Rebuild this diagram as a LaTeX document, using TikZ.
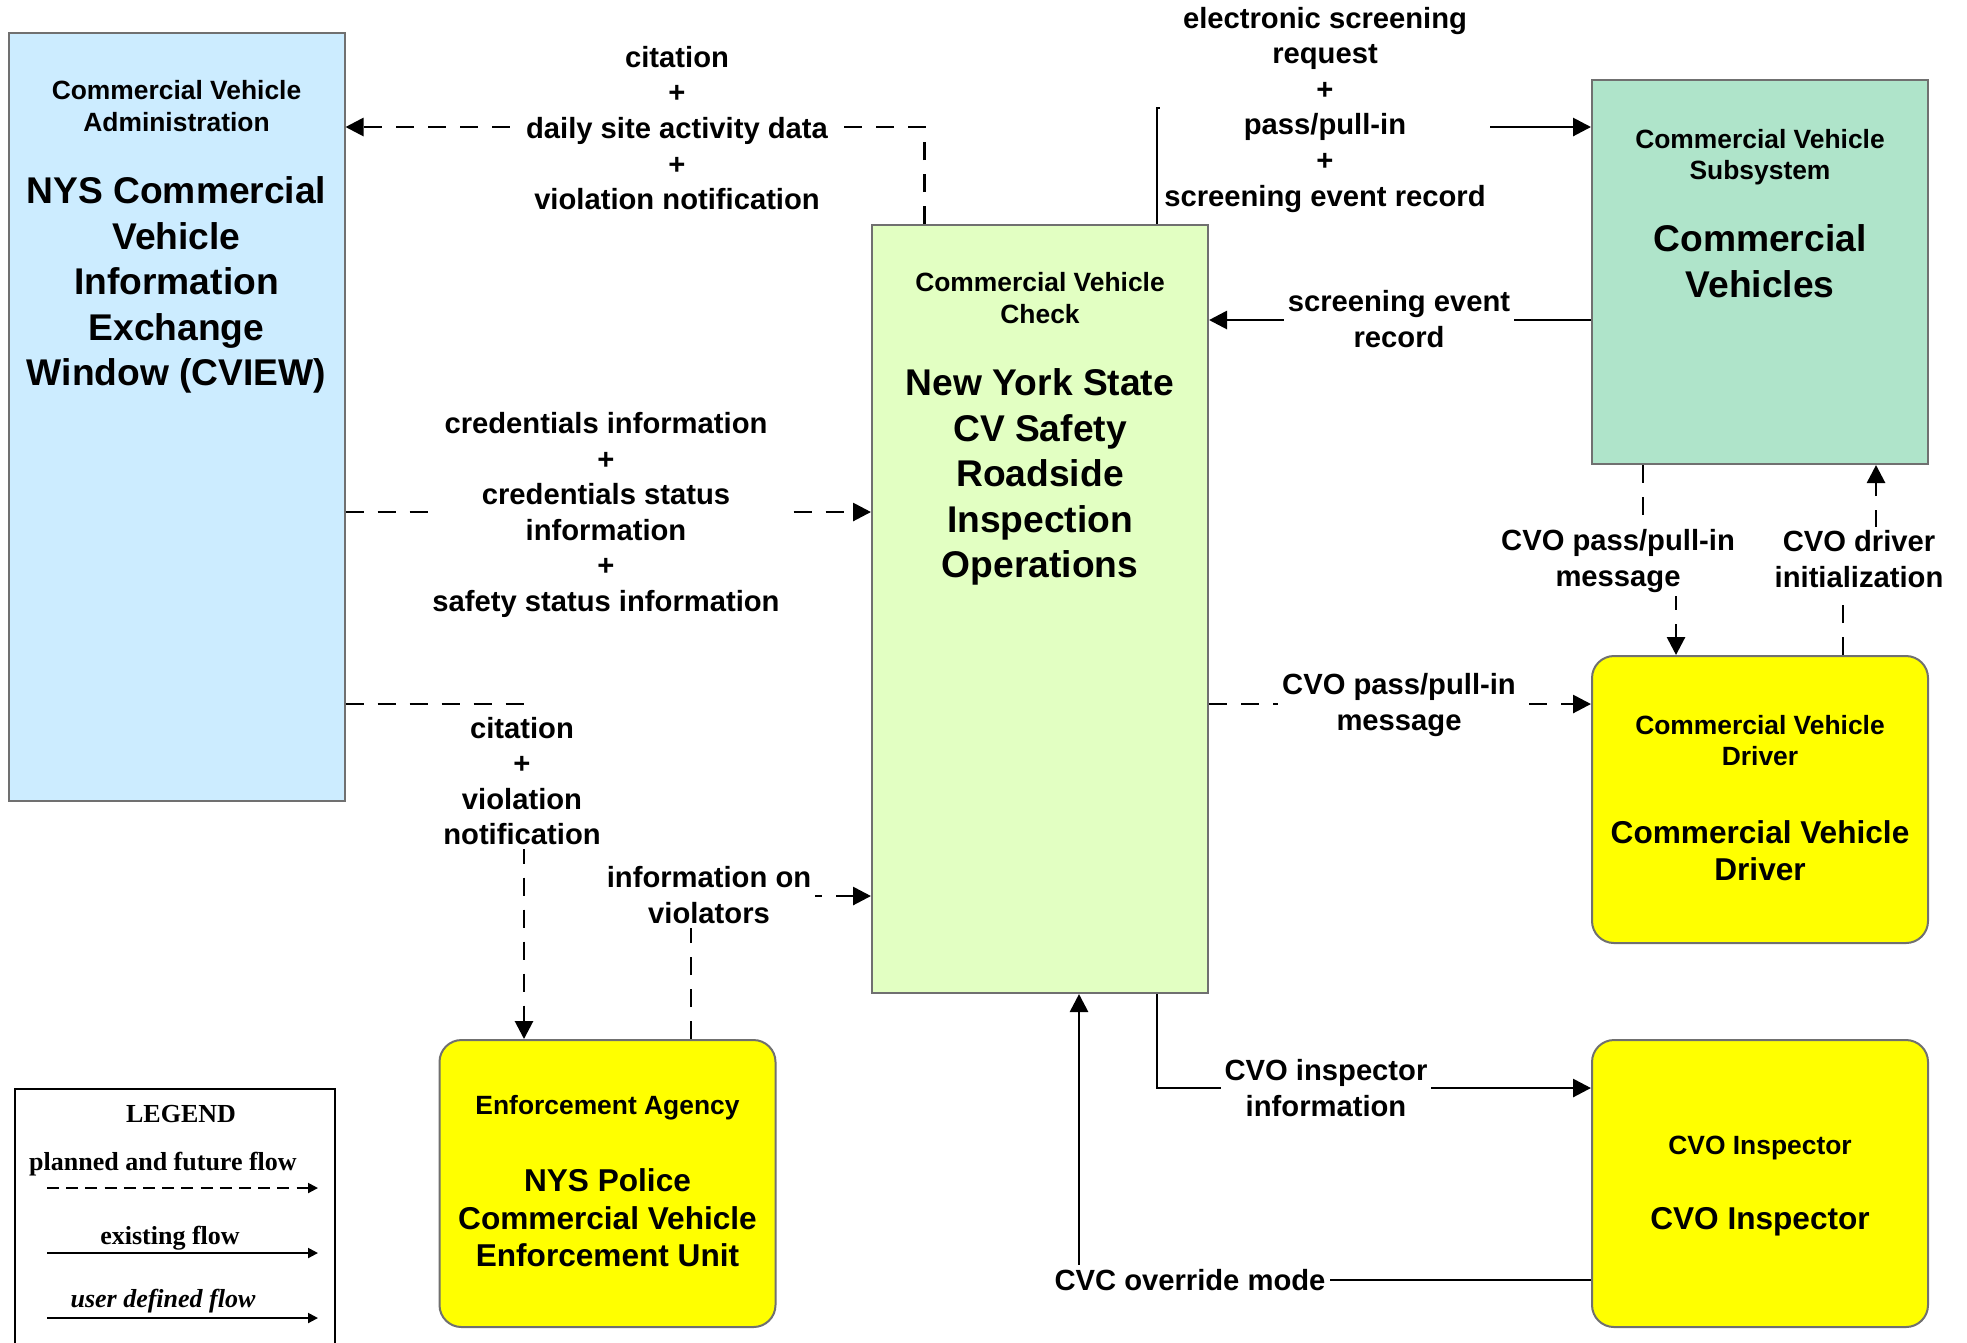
\documentclass[tikz,border=0pt]{standalone}
\usepackage{fontspec}
\setmainfont{Liberation Sans}
\newfontfamily\legendserif{Liberation Serif}
\usetikzlibrary{arrows.meta}

\definecolor{cviewblue}{RGB}{204,236,255}
\definecolor{checkgreen}{RGB}{226,255,194}
\definecolor{vehiclegreen}{RGB}{175,228,202}
\definecolor{termyellow}{RGB}{255,255,0}
\definecolor{edgegray}{RGB}{112,112,112}

\newcommand{\titlesize}{\fontsize{6.6}{7.8}\selectfont\bfseries}
\newcommand{\namesize}{\fontsize{9.3}{11.4}\selectfont\bfseries}
\newcommand{\termsize}{\fontsize{7.9}{9.4}\selectfont\bfseries}
\newcommand{\flowsize}{\fontsize{7.3}{8.9}\selectfont\bfseries}
\newcommand{\legendsize}{\legendserif\fontsize{6.5}{7.8}\selectfont\bfseries}

\begin{document}
\begin{tikzpicture}[
    x = 0.25pt,
    y = -0.25pt,
    >={Triangle[length=4.5pt,width=4.5pt]},
    subsystem/.style = {rectangle, draw=edgegray, line width=0.5pt,
    inner sep=0pt, minimum width=84pt},
    terminator/.style = {rectangle, rounded corners=5.5pt, draw=edgegray,
    fill=termyellow, line width=0.5pt, inner sep=0pt,
    minimum width=84pt, minimum height=71.75pt},
    boxtitle/.style = {font=\titlesize, align=center, inner sep=0pt},
    boxname/.style = {font=\namesize, align=center, inner sep=0pt},
    termname/.style = {font=\termsize, align=center, inner sep=0pt},
    flowlabel/.style = {font=\flowsize, align=center, fill=white, inner sep=1pt},
    planned/.style = {->, line width=0.7pt, dash pattern=on 4.5pt off 3.5pt},
    existing/.style = {->, line width=0.7pt},
    legarrow/.style = {-{Triangle[length=2.5pt,width=2.5pt]}, line width=0.5pt},
]

\path[use as bounding box, fill=white] (0,0) rectangle (1967,1342);

% subsystems
\node[subsystem, fill=cviewblue, minimum height=192pt] (cview) at (176.5,417){};
\node[subsystem, fill=checkgreen, minimum height=192pt] (cvc) at (1040,609){};
\node[subsystem, fill=vehiclegreen, minimum height=96pt] (cv) at (1760,272){};

% terminators
\node[terminator] (driver) at (1760,799.5){};
\node[terminator] (inspector) at (1760,1183.5){};
\node[terminator] (police) at (607.5,1183.5){};

\node[boxtitle] (cview_title) at (176.5,106){Commercial Vehicle\\Administration};
\node[boxname] (cview_name) at (176.5,285){NYS Commercial\\Vehicle\\Information\\Exchange\\Window (CVIEW)};
\node[boxtitle] (cvc_title) at (1040,298){Commercial Vehicle\\Check};
\node[boxname] (cvc_name) at (1040,477){New York State\\CV Safety\\Roadside\\Inspection\\Operations};
\node[boxtitle] (cv_title) at (1760,157.5){Commercial Vehicle\\Subsystem};
\node[boxname] (cv_name) at (1760,261){Commercial\\Vehicles};
\node[boxtitle] (driver_title) at (1760,740.5){Commercial Vehicle\\Driver};
\node[termname] (driver_name) at (1760,850.5){Commercial Vehicle\\Driver};
\node[boxtitle] (police_title) at (607.5,1108){Enforcement Agency};
\node[termname] (police_name) at (607.5,1218){NYS Police\\Commercial Vehicle\\Enforcement Unit};
\node[boxtitle] (inspector_title) at (1760,1148){CVO Inspector};
\node[termname] (inspector_name) at (1760,1222){CVO Inspector};

% bends
\coordinate (bend_1) at (924.6,127);
\coordinate (bend_2a) at (1157,108);
\coordinate (bend_2b) at (1320,127);
\coordinate (bend_3) at (1399,320);
\coordinate (bend_4) at (606,512);
\coordinate (bend_5) at (524,704);
\coordinate (bend_6) at (691,896);
\coordinate (bend_7) at (1399,704);
\coordinate (bend_8a) at (1643,560);
\coordinate (bend_8b) at (1676,560);
\coordinate (bend_9a) at (1843,559);
\coordinate (bend_9b) at (1876,559);
\coordinate (bend_10) at (1157,1088);
\coordinate (bend_11) at (1079,1280);

\draw[planned] (cvc.north -| bend_1) -- (bend_1) -- (cview.east |- bend_1);
\draw[existing] (cvc.north -| bend_2a) -- (bend_2a) -| (bend_2b) -- (cv.west |- bend_2b);
\draw[existing] (cv.west |- bend_3) -- (cvc.east |- bend_3);
\draw[planned] (cview.east |- bend_4) -- (cvc.west |- bend_4);
\draw[planned] (cview.east |- bend_5) -- (bend_5) -- (police.north -| bend_5);
\draw[planned] (police.north -| bend_6) -- (bend_6) -- (cvc.west |- bend_6);
\draw[planned] (cvc.east |- bend_7) -- (driver.west |- bend_7);
\draw[planned] (cv.south -| bend_8a) -- (bend_8a) -- (bend_8b) -- (driver.north -| bend_8b);
\draw[planned] (driver.north -| bend_9a) -- (bend_9a) -- (bend_9b) -- (cv.south -| bend_9b);
\draw[existing] (cvc.south -| bend_10) -- (bend_10) -- (inspector.west |- bend_10);
\draw[existing] (inspector.west |- bend_11) -- (bend_11) -- (cvc.south -| bend_11);

\node[flowlabel] (flow_1) at (677,128){citation\\+\\daily site activity data\\+\\violation notification};
\node[flowlabel] (flow_2) at (1325,109.5){electronic screening\\request\\+\\pass/pull-in\\+\\screening event record};
\node[flowlabel] (flow_3) at (1399,319){screening event\\record};
\node[flowlabel] (flow_4) at (606,515){credentials information\\+\\credentials status\\information\\+\\safety status information};
\node[flowlabel] (flow_5) at (522,781){citation\\+\\violation\\notification};
\node[flowlabel] (flow_6) at (709,895){information on\\violators};
\node[flowlabel] (flow_7) at (1399,705){CVO pass/pull-in\\message};
\node[flowlabel] (flow_8) at (1618,561){CVO pass/pull-in\\message};
\node[flowlabel] (flow_9) at (1859,559){CVO driver\\initialization};
\node[flowlabel] (flow_10) at (1326,1088){CVO inspector\\information};
\node[flowlabel] (flow_11) at (1190,1280){CVC override mode};

% legend
\node[draw, line width=0.7pt, minimum width=80pt, minimum height=77.75pt,
    inner sep=0pt] (legend) at (175,1244.5){};
\node[font=\legendsize] (leg_title) at (181,1114){LEGEND};
\node[font=\legendsize] (leg_planned) at (163,1164){planned and future flow};
\node[font=\legendsize] (leg_existing) at (170,1238){existing flow};
\node[font=\legendsize\itshape] (leg_user) at (163,1301){user defined flow};
\coordinate (lp_a) at (47,1188);
\coordinate (lp_b) at (318,1188);
\coordinate (le_a) at (47,1253);
\coordinate (le_b) at (318,1253);
\coordinate (lu_a) at (47,1318);
\coordinate (lu_b) at (318,1318);
\draw[legarrow, dash pattern=on 3pt off 1.8pt] (lp_a) -- (lp_b);
\draw[legarrow] (le_a) -- (le_b);
\draw[legarrow] (lu_a) -- (lu_b);
\end{tikzpicture}
\end{document}
